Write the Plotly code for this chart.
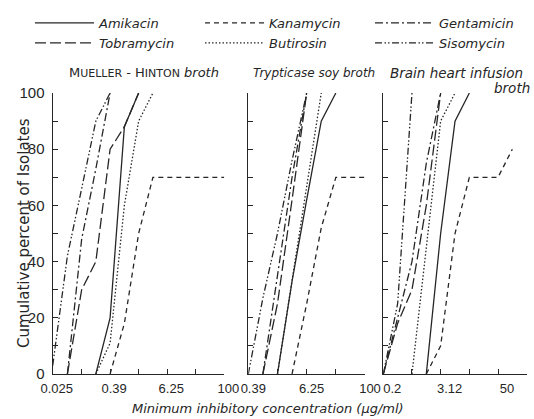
import math
import plotly.graph_objects as go

# ---------------- data ----------------
drugs = ["Amikacin", "Tobramycin", "Kanamycin", "Butirosin", "Gentamicin", "Sisomycin"]

# two-fold dilution series (µg/ml) of each broth
mh_conc = [0.024, 0.049, 0.098, 0.195, 0.39, 0.78, 1.56, 3.12, 6.25, 12.5, 25, 50, 100]
tsb_conc = [0.39, 0.78, 1.56, 3.12, 6.25, 12.5, 25, 50, 100]
bhi_conc = [0.195, 0.39, 0.78, 1.56, 3.12, 6.25, 12.5, 25, 50, 100, 200]

# cumulative percent of isolates inhibited (None = not plotted)
N = None
mh_amikacin   = [N, N, N, 0, 20, 88, 100, N, N, N, N, N, N]
mh_tobramycin = [N, 0, 30, 40, 80, 88, 100, N, N, N, N, N, N]
mh_kanamycin  = [N, N, N, N, 0, 18, 50, 70, 70, 70, 70, 70, 70]
mh_butirosin  = [N, N, N, 0, 11, 60, 90, 100, N, N, N, N, N]
mh_gentamicin = [N, 0, 48, 73, 100, N, N, N, N, N, N, N, N]
mh_sisomycin  = [3, 42, 66, 90, 100, N, N, N, N, N, N, N, N]

tsb_amikacin   = [N, N, 0, 33, 62, 90, 100, N, N]
tsb_tobramycin = [N, 0, 25, 62, 100, N, N, N, N]
tsb_kanamycin  = [N, N, N, 0, 25, 52, 70, 70, 70]
tsb_butirosin  = [N, N, 0, 33, 66, 100, N, N, N]
tsb_gentamicin = [N, 0, 35, 70, 100, N, N, N, N]
tsb_sisomycin  = [0, 27, 50, 76, 100, N, N, N, N]

bhi_amikacin   = [N, N, N, 0, 50, 90, 100, N, N, N, N]
bhi_tobramycin = [0, 18, 30, 60, 100, N, N, N, N, N, N]
bhi_kanamycin  = [N, N, N, 0, 10, 50, 70, 70, 70, 80, N]
bhi_butirosin  = [N, N, 0, 45, 90, 100, N, N, N, N, N]
bhi_gentamicin = [0, 20, 40, 75, 100, N, N, N, N, N, N]
bhi_sisomycin  = [0, 25, 100, N, N, N, N, N, N, N, N]

# tick labels
mh_ticks = [0.024, 0.098, 0.39, 1.56, 6.25, 25, 100]
mh_ticktext = ["0.025", "", "0.39", "", "6.25", "", "100"]
tsb_ticks = [0.39, 1.56, 6.25, 25, 100]
tsb_ticktext = ["0.39", "", "6.25", "", "100"]
bhi_ticks = [0.195, 0.78, 3.12, 12.5, 50, 200]
bhi_ticktext = ["0.2", "", "3.12", "", "50", ""]
pct_ticks = [0, 10, 20, 30, 40, 50, 60, 70, 80, 90, 100]
pct_ticktext = ["0", "", "20", "", "40", "", "60", "", "80", "", "100"]

panel_titles = ["M<span style='font-size:11px'>UELLER</span> - H<span style='font-size:11px'>INTON</span> <i>broth</i>",
                "<i>Trypticase soy broth</i>",
                "<i>Brain heart infusion</i>", "<i>broth</i>"]
y_title = "Cumulative percent of Isolates"
x_title = "<i>Minimum inhibitory concentration (µg/ml)</i>"

# ---------------- styling ----------------
INK = "#262626"
dash_of = {
    "Amikacin": "solid",
    "Tobramycin": "11px,4px",
    "Kanamycin": "5px,4px",
    "Butirosin": "1.5px,2px",
    "Gentamicin": "8px,3px,2px,3px",
    "Sisomycin": "7px,2.5px,1.5px,2px,1.5px,2.5px",
}
legend_of = {"Amikacin": "legend", "Tobramycin": "legend",
             "Kanamycin": "legend2", "Butirosin": "legend2",
             "Gentamicin": "legend3", "Sisomycin": "legend3"}

series = {
    "mh": (mh_conc, {"Amikacin": mh_amikacin, "Tobramycin": mh_tobramycin, "Kanamycin": mh_kanamycin,
                     "Butirosin": mh_butirosin, "Gentamicin": mh_gentamicin, "Sisomycin": mh_sisomycin}),
    "tsb": (tsb_conc, {"Amikacin": tsb_amikacin, "Tobramycin": tsb_tobramycin, "Kanamycin": tsb_kanamycin,
                       "Butirosin": tsb_butirosin, "Gentamicin": tsb_gentamicin, "Sisomycin": tsb_sisomycin}),
    "bhi": (bhi_conc, {"Amikacin": bhi_amikacin, "Tobramycin": bhi_tobramycin, "Kanamycin": bhi_kanamycin,
                       "Butirosin": bhi_butirosin, "Gentamicin": bhi_gentamicin, "Sisomycin": bhi_sisomycin}),
}

fig = go.Figure()
for i, key in enumerate(["mh", "tsb", "bhi"]):
    conc, vals = series[key]
    ax = "" if i == 0 else str(i + 1)
    for d in drugs:
        fig.add_trace(go.Scatter(
            x=conc, y=vals[d], mode="lines", name=d,
            line=dict(color=INK, width=1.3, dash=dash_of[d]),
            xaxis="x" + ax, yaxis="y" + ax,
            legend=legend_of[d], legendgroup=d, showlegend=(i == 0),
            hoverinfo="skip",
        ))

W, H = 534, 419
def px(v): return v / W
def py(v): return 1 - v / H

ydom = [py(374), py(93)]
xdoms = [[px(52.7), px(224.3)], [px(248.3), px(365)], [px(383.3), px(526.7)]]
ranges = [[math.log10(mh_conc[0]), math.log10(mh_conc[-1])],
          [math.log10(tsb_conc[0]), math.log10(tsb_conc[-1])],
          [math.log10(bhi_conc[0]), math.log10(bhi_conc[-1])]]
ticks = [(mh_ticks, mh_ticktext), (tsb_ticks, tsb_ticktext), (bhi_ticks, bhi_ticktext)]
label_shift = [4, 5, 9]

tickfont = dict(family="Liberation Sans", size=13, color=INK)
layout = dict(
    width=W, height=H, margin=dict(l=0, r=0, t=0, b=0),
    paper_bgcolor="white", plot_bgcolor="white",
    font=dict(family="DejaVu Sans", color=INK),
)
for i in range(3):
    ax = "" if i == 0 else str(i + 1)
    layout["xaxis" + ax] = dict(
        type="log", domain=xdoms[i], range=ranges[i], anchor="y" + ax,
        tickvals=ticks[i][0], ticktext=ticks[i][1], tickfont=tickfont,
        ticklabelshift=label_shift[i], ticklabelstandoff=2,
        ticks="inside", ticklen=5, tickwidth=1.1, tickcolor=INK,
        showline=True, linecolor=INK, linewidth=1.3, showgrid=False, zeroline=False,
        automargin=False, fixedrange=True,
    )
    layout["yaxis" + ax] = dict(
        domain=ydom, range=[0, 100], anchor="x" + ax, side="left",
        tickvals=pct_ticks, ticktext=pct_ticktext if i == 0 else [""] * len(pct_ticks),
        tickfont=dict(family="Liberation Sans", size=15, color=INK),
        ticklabelposition="outside", ticklabelstandoff=4,
        ticks="inside", ticklen=5, tickwidth=1.1, tickcolor=INK,
        showline=True, linecolor=INK, linewidth=1.3, showgrid=False, zeroline=False,
        automargin=False, fixedrange=True,
    )

legfont = dict(family="DejaVu Sans", size=13, color=INK, style="italic")
for name, xl in [("legend", 30), ("legend2", 200), ("legend3", 370)]:
    layout[name] = dict(x=px(xl), y=py(8), xanchor="left", yanchor="top",
                        orientation="v", font=legfont, itemwidth=59,
                        bgcolor="rgba(0,0,0,0)", borderwidth=0, tracegroupgap=0,
                        itemclick=False, itemdoubleclick=False)

def note(text, x, y, size, angle=0):
    return dict(text=text, x=px(x), y=py(y), xref="paper", yref="paper",
                xanchor="center", yanchor="middle", textangle=angle,
                showarrow=False, font=dict(family="DejaVu Sans", size=size, color=INK))

layout["annotations"] = [
    note(panel_titles[0], 144, 73, 13),
    note(panel_titles[1], 314, 73, 12),
    note(panel_titles[2], 456, 73, 13.5),
    note(panel_titles[3], 512, 88, 13.5),
    note(y_title, 24, 233, 15, -90),
    note(x_title, 268, 408, 13),
]

fig.update_layout(**layout)
fig.write_html("out.html")
